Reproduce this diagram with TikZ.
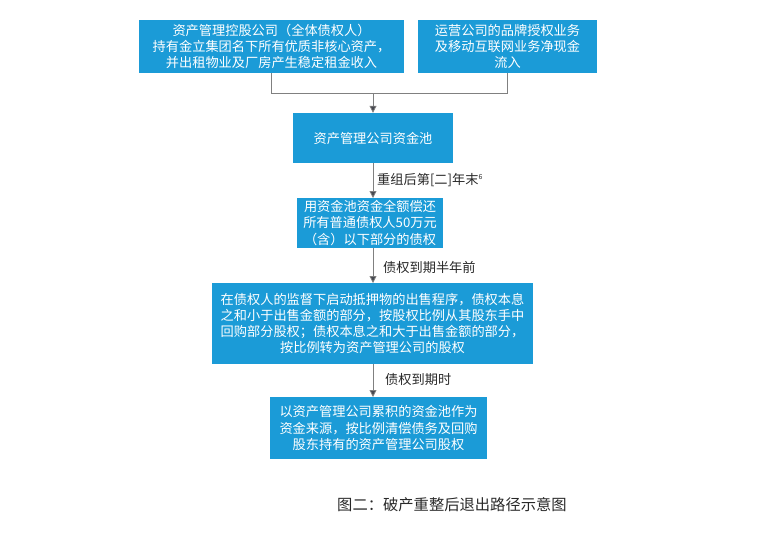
\documentclass[tikz,border=0pt]{standalone}
\usepackage{fontspec}
\setmainfont{Noto Sans CJK SC}
\usetikzlibrary{arrows.meta,positioning}
\definecolor{boxblue}{RGB}{27,155,215}
\definecolor{linegray}{RGB}{128,128,128}
\definecolor{tipgray}{RGB}{70,72,80}
\definecolor{labelgray}{RGB}{40,40,40}
\begin{document}
\begin{tikzpicture}[x=1pt,y=-1pt,
  bluebox/.style={fill=boxblue,text=white,draw=none,inner sep=0pt,align=center,
    font=\fontsize{13.2}{16.2}\selectfont},
  conn/.style={draw=linegray,line width=0.8pt},
  arr/.style={conn,-{Triangle[length=7pt,width=7pt,fill=tipgray]}},
  lbl/.style={text=labelgray,font=\fontsize{13.2}{15}\selectfont,anchor=west,inner sep=0pt}]
\useasboundingbox (0,0) rectangle (760,539);
\node[bluebox,minimum width=265pt,minimum height=53pt] (b1) at (271.5,46.5)
  {资产管理控股公司（全体债权人）\\持有金立集团名下所有优质非核心资产，\\并出租物业及厂房产生稳定租金收入};
\node[bluebox,minimum width=179pt,minimum height=53pt] (b2) at (507.5,46.5)
  {运营公司的品牌授权业务\\及移动互联网业务净现金\\流入};
\node[bluebox,minimum width=160pt,minimum height=50pt] (b3) at (373,138)
  {资产管理公司资金池};
\node[bluebox,minimum width=146pt,minimum height=50pt] (b4) at (370,223)
  {用资金池资金全额偿还\\所有普通债权人50万元\\（含）以下部分的债权};
\node[bluebox,minimum width=321pt,minimum height=81pt] (b5) at (372.5,323.5)
  {在债权人的监督下启动抵押物的出售程序，债权本息\\之和小于出售金额的部分，按股权比例从其股东手中\\回购部分股权；债权本息之和大于出售金额的部分，\\按比例转为资产管理公司的股权};
\node[bluebox,minimum width=217pt,minimum height=62pt] (b6) at (378.5,428)
  {以资产管理公司累积的资金池作为\\资金来源，按比例清偿债务及回购\\股东持有的资产管理公司股权};
\coordinate (jl) at (b1.south |- 0,93);
\coordinate (jr) at (b2.south |- 0,93);
\coordinate (jm) at (373,93);
\draw[conn] (b1.south) -- (jl) -- (jr) -- (b2.south);
\draw[arr] (jm) -- (jm |- b3.north);
\draw[arr] (373,163) -- (373,198);
\draw[arr] (373,248) -- (373,283);
\draw[arr] (373,364) -- (373,397);
\node[lbl] (l1) at (377,180) {重组后第[二]年末\raisebox{5pt}{\fontsize{7}{7}\selectfont 6}};
\node[lbl] (l2) at (383,267) {债权到期半年前};
\node[lbl] (l3) at (385,380) {债权到期时};
\node[text=labelgray,font=\fontsize{15.3}{18}\selectfont,inner sep=0pt,anchor=west] (cap) at (337,505)
  {图二：破产重整后退出路径示意图};
\end{tikzpicture}
\end{document}
